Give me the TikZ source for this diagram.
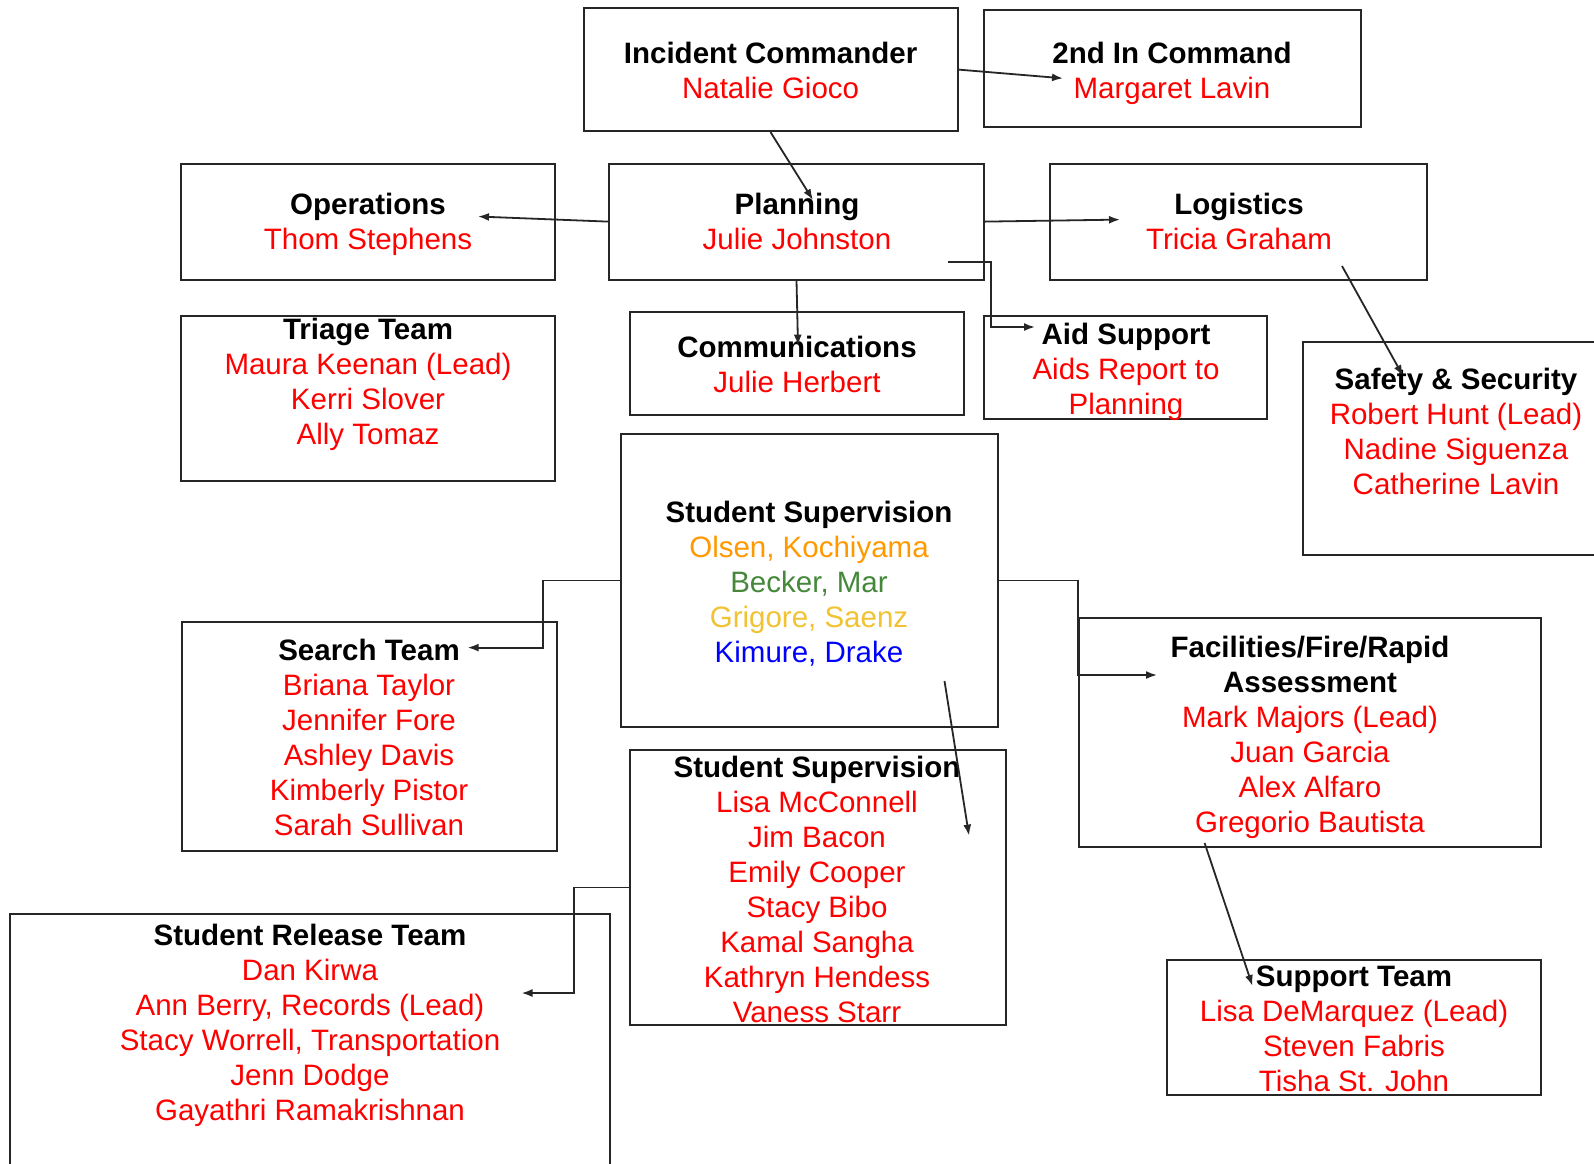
\documentclass[tikz,border=0pt]{standalone}
\usepackage{fontspec}
\setmainfont{Liberation Sans}
\usetikzlibrary{arrows.meta}
\definecolor{namered}{HTML}{FF0000}
\definecolor{suporange}{HTML}{FF9900}
\definecolor{supgreen}{HTML}{45883A}
\definecolor{supyellow}{HTML}{F1C232}
\definecolor{supblue}{HTML}{0000FF}
\newcommand{\hd}[1]{\textbf{#1}}
\newcommand{\nm}[1]{\textcolor{namered}{#1}}

\begin{document}
\begin{tikzpicture}[x=1pt, y=-1pt,
    box/.style={draw=black!85, line width=2pt, inner sep=0pt},
    txt/.style={align=center, anchor=base, inner sep=0pt,
      font=\fontsize{29.5}{35}\selectfont},
    conn/.style={draw=black!85, line width=1.8pt,
      -{Latex[length=11pt, width=8pt]}}]
  \clip (0, 0) rectangle (1594, 1163);
  \fill[white] (0, 0) rectangle (1594, 1163);

  % boxes
  \node[box, minimum width=374, minimum height=123] (ic) at (770.5, 69.6) {};
  \node[box, minimum width=377, minimum height=117] (sec) at (1172.5, 68.6) {};
  \node[box, minimum width=374, minimum height=116] (ops) at (368, 221.6) {};
  \node[box, minimum width=375, minimum height=116] (plan) at (796.5, 221.6) {};
  \node[box, minimum width=377, minimum height=116] (log) at (1238.5, 221.6) {};
  \node[box, minimum width=374, minimum height=165] (tri) at (368, 398.5) {};
  \node[box, minimum width=334, minimum height=103] (com) at (797, 363.5) {};
  \node[box, minimum width=283, minimum height=103] (aid) at (1125.5, 367.5) {};
  \node[box, minimum width=297, minimum height=213] (saf) at (1451.5, 448.3) {};
  \node[box, minimum width=377, minimum height=293] (ss1) at (809.5, 580.5) {};
  \node[box, minimum width=375, minimum height=229] (sea) at (369.5, 736.5) {};
  \node[box, minimum width=462, minimum height=229] (fac) at (1309.8, 732.5) {};
  \node[box, minimum width=376, minimum height=275] (ss2) at (818, 887.5) {};
  \node[box, minimum width=600, minimum height=261] (rel) at (310, 1044.5) {};
  \node[box, minimum width=374, minimum height=135] (sup) at (1354, 1027.5) {};

  % texts (placed by the baseline of their last line)
  \node[txt] (ic-t) at (770.6, 98.4) {\hd{Incident Commander}\\\nm{Natalie Gioco}};
  \node[txt] (sec-t) at (1172, 98.4) {\hd{2nd In Command}\\\nm{Margaret Lavin}};
  \node[txt] (ops-t) at (368, 249.5) {\hd{Operations}\\\nm{Thom Stephens}};
  \node[txt] (plan-t) at (797, 249.5) {\hd{Planning}\\\nm{Julie Johnston}};
  \node[txt] (log-t) at (1239, 249.5) {\hd{Logistics}\\\nm{Tricia Graham}};
  \node[txt] (tri-t) at (368, 444.5) {\hd{Triage Team}\\\nm{Maura Keenan (Lead)}\\
    \nm{Kerri Slover}\\\nm{Ally Tomaz}};
  \node[txt] (com-t) at (797, 392.2) {\hd{Communications}\\\nm{Julie Herbert}};
  \node[txt] (aid-t) at (1126, 414) {\hd{Aid Support}\\\nm{Aids Report to}\\
    \nm{Planning}};
  \node[txt] (saf-t) at (1456, 494.5) {\hd{Safety \& Security}\\
    \nm{Robert Hunt (Lead)}\\\nm{Nadine Siguenza}\\\nm{Catherine Lavin}};
  \node[txt] (ss1-t) at (809, 662.5) {\hd{Student Supervision}\\
    \textcolor{suporange}{Olsen, Kochiyama}\\\textcolor{supgreen}{Becker, Mar}\\
    \textcolor{supyellow}{Grigore, Saenz}\\\textcolor{supblue}{Kimure, Drake}};
  \node[txt] (sea-t) at (369, 835) {\hd{Search Team}\\\nm{Briana Taylor}\\
    \nm{Jennifer Fore}\\\nm{Ashley Davis}\\\nm{Kimberly Pistor}\\
    \nm{Sarah Sullivan}};
  \node[txt] (fac-t) at (1310, 832) {\hd{Facilities/Fire/Rapid}\\\hd{Assessment}\\
    \nm{Mark Majors (Lead)}\\\nm{Juan Garcia}\\\nm{Alex Alfaro}\\
    \nm{Gregorio Bautista}};
  \node[txt] (ss2-t) at (817, 1022) {\hd{Student Supervision}\\\nm{Lisa McConnell}\\
    \nm{Jim Bacon}\\\nm{Emily Cooper}\\\nm{Stacy Bibo}\\\nm{Kamal Sangha}\\
    \nm{Kathryn Hendess}\\\nm{Vaness Starr}};
  \node[txt] (rel-t) at (310, 1120.5) {\hd{Student Release Team}\\\nm{Dan Kirwa}\\
    \nm{Ann Berry, Records (Lead)}\\\nm{Stacy Worrell, Transportation}\\
    \nm{Jenn Dodge}\\\nm{Gayathri Ramakrishnan}};
  \node[txt] (sup-t) at (1354, 1091.5) {\hd{Support Team}\\
    \nm{Lisa DeMarquez (Lead)}\\\nm{Steven Fabris}\\\nm{Tisha St. John}};

  % free ends
  \coordinate (sec-in) at (1063, 78.3);
  \coordinate (plan-in) at (813, 200);
  \coordinate (ops-in) at (478, 216.5);
  \coordinate (log-in) at (1120, 219.6);
  \coordinate (plan-out) at (947.5, 262);
  \coordinate (aid-in) at (1035, 327);
  \coordinate (com-in) at (798, 345.6);
  \coordinate (log-out) at (1342, 266);
  \coordinate (saf-in) at (1403, 376);
  \coordinate (sea-in) at (467.6, 647.6);
  \coordinate (fac-in) at (1157, 675);
  \coordinate (ss1-out) at (944.5, 681);
  \coordinate (ss2-in) at (969, 835.6);
  \coordinate (rel-in) at (521.5, 993);
  \coordinate (fac-out) at (1204.6, 843);
  \coordinate (sup-in) at (1252.5, 986);

  % connectors
  \draw[conn] (ic.east) -- (sec-in);
  \draw[conn] (ic.south) -- (plan-in);
  \draw[conn] (plan.west) -- (ops-in);
  \draw[conn] (plan.east) -- (log-in);
  \draw[conn] (plan-out) -- ++(43.5, 0) |- (aid-in);
  \draw[conn] (plan.south) -- (com-in);
  \draw[conn] (log-out) -- (saf-in);
  \draw[conn] (ss1.west) -- ++(-77, 0) |- (sea-in);
  \draw[conn] (ss1.east) -- (fac.west |- ss1.east) |- (fac-in);
  \draw[conn] (ss1-out) -- (ss2-in);
  \draw[conn] (ss2.west) -- ++(-55, 0) |- (rel-in);
  \draw[conn] (fac-out) -- (sup-in);
\end{tikzpicture}
\end{document}
